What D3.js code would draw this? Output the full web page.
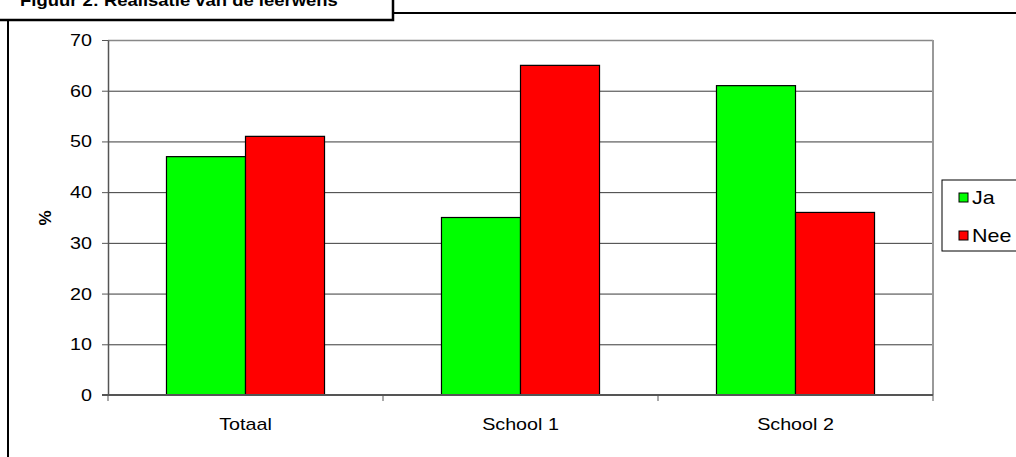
<!DOCTYPE html>
<html>
<head>
<meta charset="utf-8">
<script src="https://cdn.jsdelivr.net/npm/d3@7"></script>
<style>
  html, body { margin: 0; padding: 0; background: #fff; }
  svg { display: block; font-family: "Liberation Sans", Arial, sans-serif; }
</style>
</head>
<body>
<svg id="chart" width="1016" height="457"></svg>
<script>
// Chart data
const categories = ["Totaal", "School 1", "School 2"];
const seriesNames = ["Ja", "Nee"];
const jaValues = [47, 35, 61];
const neeValues = [51, 65, 36];
const yTicks = [0, 10, 20, 30, 40, 50, 60, 70];
const titleText = "Figuur 2: Realisatie van de leerwens";
const yLabel = "%";

const colors = { Ja: "#00ff00", Nee: "#ff0000" };
const FONT = "'Liberation Sans', Arial, sans-serif";

const svg = d3.select("#chart");

// Widen text horizontally by stretching glyphs to a longer textLength
function widen(sel, factor = 1.16) {
  sel.each(function () {
    const w = this.getComputedTextLength();
    d3.select(this).attr("textLength", w * factor).attr("lengthAdjust", "spacingAndGlyphs");
  });
}

// Plot area
const plot = { left: 108, right: 933, top: 40, bottom: 395 };

const x0 = d3.scaleBand()
  .domain(categories)
  .range([plot.left, plot.right])
  .paddingInner(0)
  .paddingOuter(0);

// Two bars per group with a 75% gap around them
const x1 = d3.scaleBand()
  .domain(seriesNames)
  .range([0, x0.bandwidth()])
  .paddingInner(0)
  .paddingOuter(0.74);

const y = d3.scaleLinear().domain([0, 70]).range([plot.bottom, plot.top]);

// Frame lines of the figure
svg.append("line").attr("x1", 8).attr("x2", 8).attr("y1", 20).attr("y2", 457)
  .attr("stroke", "#000").attr("stroke-width", 2);
svg.append("line").attr("x1", 393).attr("x2", 1016).attr("y1", 13).attr("y2", 13)
  .attr("stroke", "#000").attr("stroke-width", 2);
svg.append("path").attr("d", "M0,20 H393 V0")
  .attr("fill", "none").attr("stroke", "#000").attr("stroke-width", 2.5);

svg.append("text")
  .attr("x", 20).attr("y", 6)
  .attr("font-size", 17).attr("font-weight", "bold")
  .text(titleText)
  .call(widen, 1.085);

// Gridlines
svg.append("g").selectAll("line")
  .data(yTicks.filter(d => d > 0))
  .join("line")
  .attr("x1", plot.left).attr("x2", plot.right)
  .attr("y1", d => y(d) + 0.5).attr("y2", d => y(d) + 0.5)
  .attr("stroke", d => d === 70 ? "#888" : "#3a3a3a").attr("stroke-width", d => d === 70 ? 1.5 : 1);

// Right border of plot area
svg.append("line").attr("x1", plot.right).attr("x2", plot.right)
  .attr("y1", plot.top).attr("y2", plot.bottom)
  .attr("stroke", "#999").attr("stroke-width", 2);

// Bars
const data = categories.map((c, i) => ({ cat: c, values: [
  { key: "Ja", value: jaValues[i] },
  { key: "Nee", value: neeValues[i] }
]}));

const groups = svg.append("g").selectAll("g")
  .data(data).join("g")
  .attr("transform", d => `translate(${x0(d.cat)},0)`);

groups.selectAll("rect")
  .data(d => d.values).join("rect")
  .attr("x", d => x1(d.key))
  .attr("width", x1.bandwidth())
  .attr("y", d => y(d.value))
  .attr("height", d => y(0) - y(d.value))
  .attr("fill", d => colors[d.key])
  .attr("stroke", "#000").attr("stroke-width", 1.2);

// Y axis
const yAxis = svg.append("g")
  .attr("transform", `translate(${plot.left},0)`)
  .call(d3.axisLeft(y).tickValues(yTicks).tickSize(6).tickSizeOuter(0).tickPadding(10));
yAxis.select(".domain").attr("stroke", "#555").attr("stroke-width", 1.5);
yAxis.selectAll(".tick line").attr("stroke", "#555");
yAxis.selectAll(".tick text").attr("font-size", 17).attr("fill", "#000")
  .attr("font-family", FONT).call(widen);

// X axis
const xAxis = svg.append("g")
  .attr("transform", `translate(0,${plot.bottom})`)
  .call(d3.axisBottom(x0).tickSize(0).tickPadding(23));
xAxis.select(".domain").remove();
xAxis.selectAll(".tick text").attr("font-size", 17).attr("fill", "#000")
  .attr("font-family", FONT).call(widen);
svg.append("line").attr("x1", plot.left - 6).attr("x2", plot.right)
  .attr("y1", plot.bottom).attr("y2", plot.bottom)
  .attr("stroke", "#555").attr("stroke-width", 2);
// Category separator ticks
svg.append("g").selectAll("line")
  .data(categories.map(c => x0(c)).concat([plot.right]))
  .join("line")
  .attr("x1", d => d).attr("x2", d => d)
  .attr("y1", plot.bottom).attr("y2", plot.bottom + 6)
  .attr("stroke", "#555").attr("stroke-width", 1);

// Y axis title
svg.append("text")
  .attr("transform", "translate(51,218) rotate(-90)")
  .attr("text-anchor", "middle")
  .attr("font-size", 17).attr("font-weight", "bold")
  .text(yLabel);

// Legend
const legend = svg.append("g");
legend.append("rect")
  .attr("x", 942).attr("y", 180).attr("width", 90).attr("height", 71)
  .attr("fill", "#fff").attr("stroke", "#000").attr("stroke-width", 1);
const items = legend.selectAll("g.item").data(seriesNames).join("g")
  .attr("class", "item")
  .attr("transform", (d, i) => `translate(959,${193 + i * 38})`);
items.append("rect").attr("width", 9).attr("height", 9)
  .attr("fill", d => colors[d]).attr("stroke", "#000").attr("stroke-width", 1);
items.append("text").attr("x", 13).attr("y", 11)
  .attr("font-size", 18.5).text(d => d).call(widen);
</script>
</body>
</html>
